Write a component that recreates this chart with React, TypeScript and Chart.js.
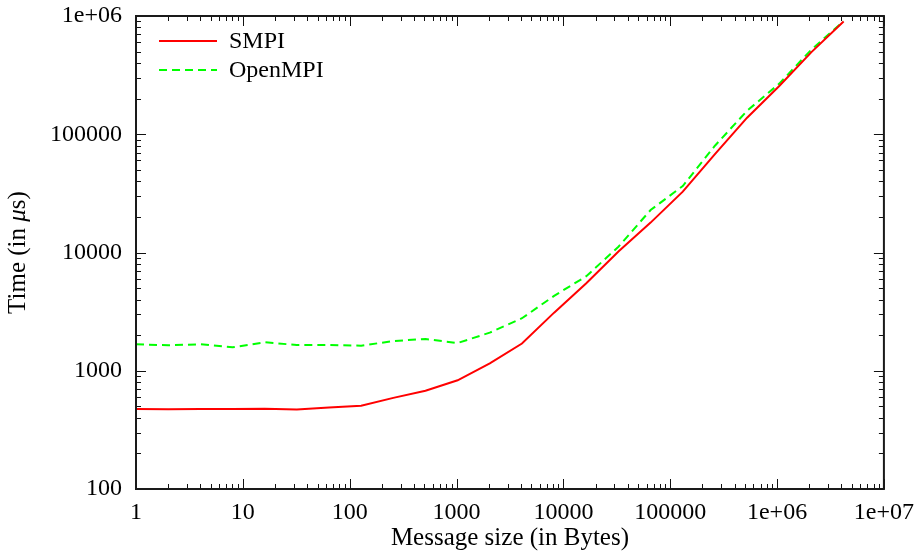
import React, { useEffect, useRef } from 'react';
import { Chart, registerables } from 'chart.js';

Chart.register(...registerables);

const messageSizes = [1, 2, 4, 8, 16, 32, 64, 128, 256, 512, 1024, 2048, 4096, 8192, 16384, 32768, 65536, 131072, 262144, 524288, 1048576, 2097152, 4194304];
const smpiTimes = [475, 473, 474, 474, 478, 470, 488, 506, 590, 678, 830, 1156, 1700, 3100, 5500, 10200, 17900, 32700, 68000, 138000, 256000, 495000, 900000];
const openmpiTimes = [1674, 1641, 1674, 1579, 1740, 1651, 1651, 1629, 1784, 1855, 1716, 2100, 2780, 4300, 6300, 11190, 22870, 36500, 80000, 158000, 268000, 520000, 905000];

const seriesLabels = ['SMPI', 'OpenMPI'];
const xTickValues = [1, 10, 100, 1000, 10000, 100000, 1000000, 10000000];
const xTickLabels = ['1', '10', '100', '1000', '10000', '100000', '1e+06', '1e+07'];
const yTickValues = [100, 1000, 10000, 100000, 1000000];
const yTickLabels = ['100', '1000', '10000', '100000', '1e+06'];
const xTitle = 'Message size (in Bytes)';
const yTitleParts = ['Time (in ', 'μ', 's)'];

const FONT = "'Liberation Serif', 'DejaVu Serif', serif";

const framePlugin = {
  id: 'frameTicks',
  afterDatasetsDraw(chart: any) {
    const { ctx, chartArea: a, scales } = chart;
    const xs = scales.x;
    const ys = scales.y;
    ctx.save();
    ctx.strokeStyle = '#111';
    ctx.lineWidth = 1;
    const seg = (x1: number, y1: number, x2: number, y2: number) => {
      ctx.beginPath();
      ctx.moveTo(x1, y1);
      ctx.lineTo(x2, y2);
      ctx.stroke();
    };
    const x0 = Math.round(Math.log10(xs.min));
    const x1 = Math.round(Math.log10(xs.max));
    for (let d = x0; d <= x1; d++) {
      for (let k = 1; k <= 9; k++) {
        const v = k * Math.pow(10, d);
        if (v > xs.max * 1.0001) break;
        const px = Math.round(xs.getPixelForValue(v)) + 0.5;
        const len = k === 1 ? 10 : 5;
        seg(px, a.bottom, px, a.bottom - len);
        seg(px, a.top, px, a.top + len);
      }
    }
    const y0 = Math.round(Math.log10(ys.min));
    const y1 = Math.round(Math.log10(ys.max));
    for (let d = y0; d <= y1; d++) {
      for (let k = 1; k <= 9; k++) {
        const v = k * Math.pow(10, d);
        if (v > ys.max * 1.0001) break;
        const py = Math.round(ys.getPixelForValue(v)) + 0.5;
        const len = k === 1 ? 10 : 5;
        seg(a.left, py, a.left + len, py);
        seg(a.right, py, a.right - len, py);
      }
    }
    ctx.lineWidth = 2;
    ctx.strokeStyle = '#1a1a1a';
    ctx.strokeRect(a.left, a.top, a.right - a.left, a.bottom - a.top);

    // legend inside plot area
    chart.data.datasets.forEach((ds: any, i: number) => {
      const ly = a.top + 25 + i * 29;
      ctx.save();
      ctx.strokeStyle = ds.borderColor;
      ctx.lineWidth = ds.borderWidth;
      ctx.setLineDash(ds.borderDash || []);
      seg(a.left + 23, ly, a.left + 81, ly);
      ctx.restore();
      ctx.fillStyle = '#000';
      ctx.font = `24px ${FONT}`;
      ctx.textBaseline = 'middle';
      ctx.textAlign = 'left';
      ctx.fillText(ds.label, a.left + 93, ly + 1);
    });

    // y axis title with italic mu
    const fonts = [`25px ${FONT}`, `italic 25px ${FONT}`, `25px ${FONT}`];
    const widths = yTitleParts.map((t, i) => {
      ctx.font = fonts[i];
      return ctx.measureText(t).width;
    });
    const total = widths.reduce((s, w) => s + w, 0);
    const cy = (a.top + a.bottom) / 2;
    ctx.translate(18, cy);
    ctx.rotate(-Math.PI / 2);
    ctx.fillStyle = '#000';
    ctx.textBaseline = 'middle';
    ctx.textAlign = 'left';
    let pos = -total / 2;
    yTitleParts.forEach((t, i) => {
      ctx.font = fonts[i];
      ctx.fillText(t, pos, 0);
      pos += widths[i];
    });
    ctx.restore();
  },
};

export default function App() {
  const canvasRef = useRef<HTMLCanvasElement | null>(null);

  useEffect(() => {
    if (!canvasRef.current) return;
    const toPoints = (ys: number[]) => messageSizes.map((x, i) => ({ x, y: ys[i] }));
    const chart = new Chart(canvasRef.current, {
      type: 'line',
      data: {
        datasets: [
          {
            label: seriesLabels[0],
            data: toPoints(smpiTimes),
            borderColor: '#ff0000',
            borderWidth: 2,
            pointRadius: 0,
            fill: false,
            tension: 0,
          },
          {
            label: seriesLabels[1],
            data: toPoints(openmpiTimes),
            borderColor: '#00ff00',
            borderWidth: 2,
            borderDash: [8, 5],
            pointRadius: 0,
            fill: false,
            tension: 0,
          },
        ],
      },
      options: {
        animation: false,
        responsive: true,
        maintainAspectRatio: false,
        layout: { padding: { left: 0, right: 38, top: 16, bottom: 0 } },
        plugins: { legend: { display: false }, tooltip: { enabled: false } },
        scales: {
          x: {
            type: 'logarithmic',
            min: 1,
            max: 10000000,
            grid: { display: false, drawTicks: false },
            border: { display: false },
            afterBuildTicks: (scale: any) => {
              scale.ticks = xTickValues.map((value) => ({ value, major: true }));
            },
            afterFit: (scale: any) => {
              scale.height = 65;
            },
            ticks: {
              autoSkip: false,
              maxRotation: 0,
              padding: 9,
              color: '#000',
              font: { family: FONT, size: 24 },
              callback: (_v: any, i: number) => xTickLabels[i],
            },
            title: {
              display: true,
              text: xTitle,
              color: '#000',
              font: { family: FONT, size: 25 },
              padding: { top: 0, bottom: 1 },
            },
          },
          y: {
            type: 'logarithmic',
            min: 100,
            max: 1000000,
            grid: { display: false, drawTicks: false },
            border: { display: false },
            afterBuildTicks: (scale: any) => {
              scale.ticks = yTickValues.map((value) => ({ value, major: true }));
            },
            afterFit: (scale: any) => {
              scale.width = 136;
              scale.paddingTop = 0;
              scale.paddingBottom = 0;
            },
            ticks: {
              autoSkip: false,
              padding: 14,
              color: '#000',
              font: { family: FONT, size: 24 },
              callback: (_v: any, i: number) => yTickLabels[i],
            },
            title: { display: false },
          },
        },
      },
      plugins: [framePlugin],
    });
    return () => chart.destroy();
  }, []);

  return (
    <div style={{ position: 'fixed', left: 0, top: 0, width: 923, height: 554, background: '#fff' }}>
      <canvas ref={canvasRef} />
    </div>
  );
}
